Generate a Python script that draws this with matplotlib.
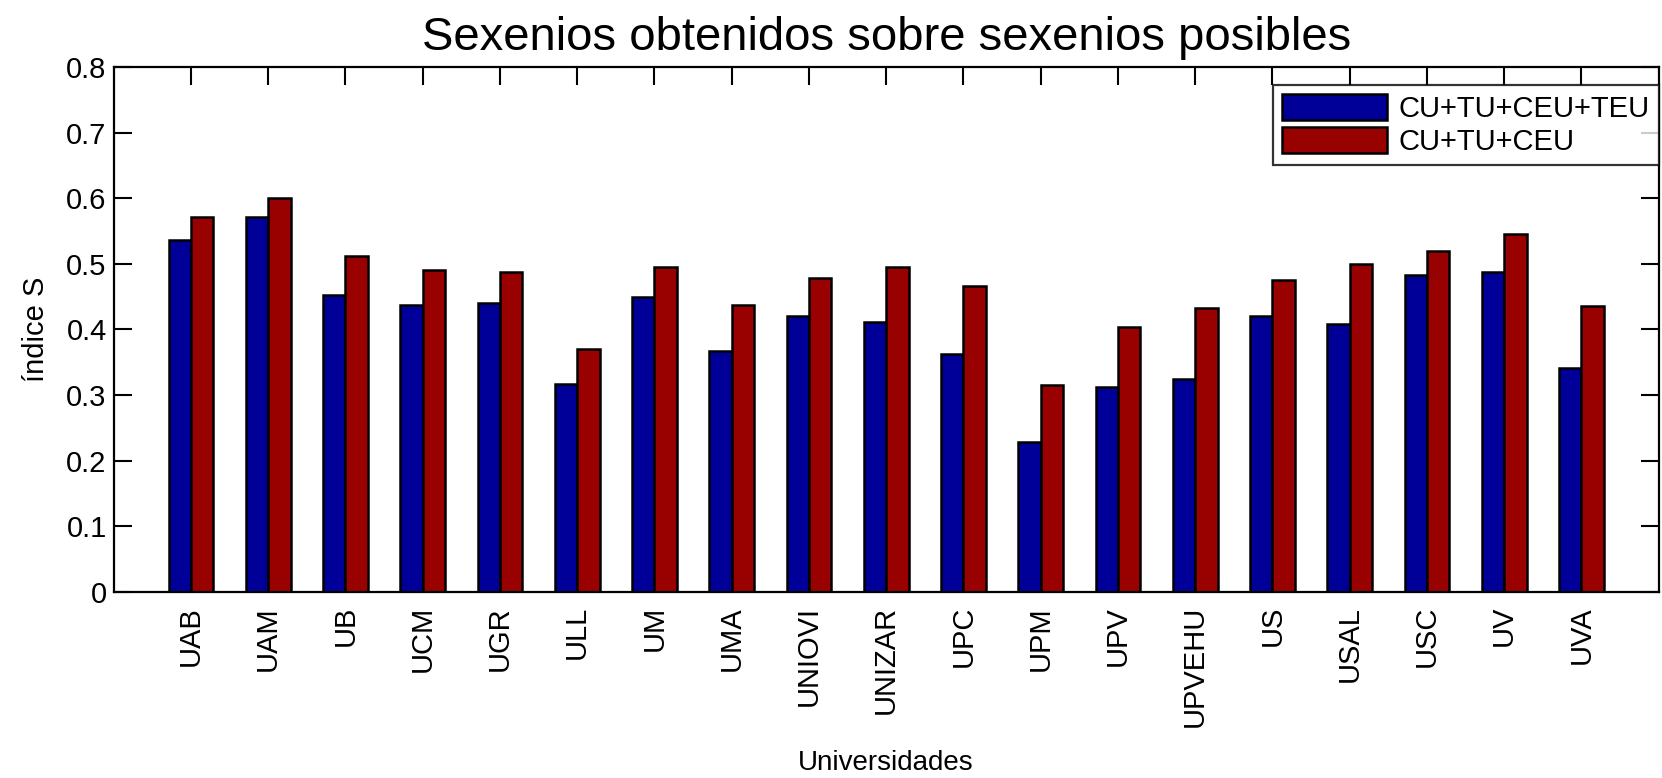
import numpy as np
import matplotlib
matplotlib.use('Agg')
import matplotlib.pyplot as plt

plt.rcParams['font.family'] = ['Liberation Sans', 'DejaVu Sans']

universidades = ['UAB', 'UAM', 'UB', 'UCM', 'UGR', 'ULL', 'UM', 'UMA', 'UNIOVI', 'UNIZAR',
                 'UPC', 'UPM', 'UPV', 'UPVEHU', 'US', 'USAL', 'USC', 'UV', 'UVA']
todos = [0.537, 0.571, 0.453, 0.437, 0.440, 0.317, 0.450, 0.367, 0.420, 0.411,
         0.362, 0.229, 0.313, 0.325, 0.420, 0.408, 0.483, 0.487, 0.342]
sin_teu = [0.571, 0.600, 0.512, 0.491, 0.487, 0.371, 0.495, 0.437, 0.479, 0.495,
           0.466, 0.316, 0.404, 0.433, 0.475, 0.499, 0.520, 0.545, 0.436]
series = ['CU+TU+CEU+TEU', 'CU+TU+CEU']

fig = plt.figure(figsize=(16.62, 7.78), dpi=100)
ax = fig.add_axes([0.0684, 0.239, 0.9296, 0.675])

x = np.arange(1, len(universidades) + 1)
w = 0.29
ax.bar(x - w / 2, todos, w, color='#000099', edgecolor='black', linewidth=1.8, label=series[0])
ax.bar(x + w / 2, sin_teu, w, color='#990000', edgecolor='black', linewidth=1.8, label=series[1])

ax.set_xlim(0, 20)
ax.set_ylim(0, 0.8)
ax.set_xticks(x)
ax.set_xticklabels(universidades, rotation=90, fontsize=21)
ax.set_yticks(np.arange(0, 0.81, 0.1))
ax.set_yticklabels(['0', '0.1', '0.2', '0.3', '0.4', '0.5', '0.6', '0.7', '0.8'], fontsize=21)
ax.tick_params(direction='in', length=13, width=1.5, top=True, right=True)
ax.tick_params(axis='x', pad=10)
ax.tick_params(axis='y', pad=5)
for s in ax.spines.values():
    s.set_linewidth(1.6)

ax.set_ylabel('índice S', fontsize=21, labelpad=12)
fig.text(0.533, 1 - 763 / 778, 'Universidades', fontsize=20, ha='center', va='center')
ax.set_title('Sexenios obtenidos sobre sexenios posibles', fontsize=34, pad=12)

leg = ax.legend(loc='upper right', bbox_to_anchor=(1.0, 0.966), fontsize=21,
                fancybox=False, edgecolor='black', borderaxespad=0,
                handlelength=3.6, handleheight=1.0, labelspacing=0.15,
                borderpad=0.3, handletextpad=0.4)
leg.get_frame().set_linewidth(1.6)

plt.savefig('out.png', dpi=100)
plt.close()
